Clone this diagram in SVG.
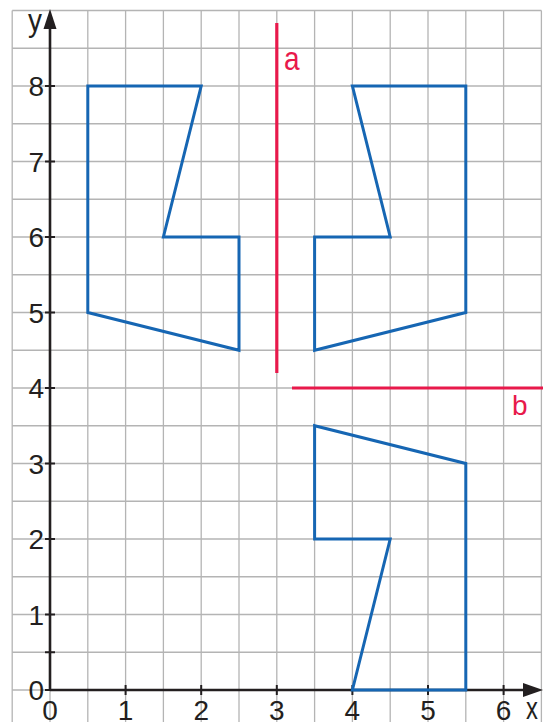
<svg xmlns="http://www.w3.org/2000/svg" width="545" height="722" viewBox="0 0 545 722">
<style>
.grid line{stroke:#b4b4b4;stroke-width:1.3}
.fig{fill:none;stroke:#1666b3;stroke-width:3;stroke-linejoin:miter}
.red{stroke:#e8194b;stroke-width:3.2}
.axis{stroke:#231f20;stroke-width:2.6}
.tick{stroke:#231f20;stroke-width:2}
.lbl{font-family:"Liberation Sans",Arial,sans-serif;font-size:28px;fill:#231f20}
.rl{font-family:"Liberation Sans",Arial,sans-serif;font-size:28px;fill:#e8194b}
</style>
<rect width="545" height="722" fill="#ffffff"/>
<g id="grid" class="grid">
<line x1="12.2" y1="10.5" x2="12.2" y2="722"/>
<line x1="50" y1="10.5" x2="50" y2="722"/>
<line x1="87.8" y1="10.5" x2="87.8" y2="722"/>
<line x1="125.6" y1="10.5" x2="125.6" y2="722"/>
<line x1="163.4" y1="10.5" x2="163.4" y2="722"/>
<line x1="201.2" y1="10.5" x2="201.2" y2="722"/>
<line x1="239" y1="10.5" x2="239" y2="722"/>
<line x1="276.8" y1="10.5" x2="276.8" y2="722"/>
<line x1="314.6" y1="10.5" x2="314.6" y2="722"/>
<line x1="352.4" y1="10.5" x2="352.4" y2="722"/>
<line x1="390.2" y1="10.5" x2="390.2" y2="722"/>
<line x1="428" y1="10.5" x2="428" y2="722"/>
<line x1="465.8" y1="10.5" x2="465.8" y2="722"/>
<line x1="503.6" y1="10.5" x2="503.6" y2="722"/>
<line x1="541.4" y1="10.5" x2="541.4" y2="722"/>
<line x1="12.2" y1="10.5" x2="541.4" y2="10.5"/>
<line x1="12.2" y1="48.25" x2="541.4" y2="48.25"/>
<line x1="12.2" y1="86" x2="541.4" y2="86"/>
<line x1="12.2" y1="123.75" x2="541.4" y2="123.75"/>
<line x1="12.2" y1="161.5" x2="541.4" y2="161.5"/>
<line x1="12.2" y1="199.25" x2="541.4" y2="199.25"/>
<line x1="12.2" y1="237" x2="541.4" y2="237"/>
<line x1="12.2" y1="274.75" x2="541.4" y2="274.75"/>
<line x1="12.2" y1="312.5" x2="541.4" y2="312.5"/>
<line x1="12.2" y1="350.25" x2="541.4" y2="350.25"/>
<line x1="12.2" y1="388" x2="541.4" y2="388"/>
<line x1="12.2" y1="425.75" x2="541.4" y2="425.75"/>
<line x1="12.2" y1="463.5" x2="541.4" y2="463.5"/>
<line x1="12.2" y1="501.25" x2="541.4" y2="501.25"/>
<line x1="12.2" y1="539" x2="541.4" y2="539"/>
<line x1="12.2" y1="576.75" x2="541.4" y2="576.75"/>
<line x1="12.2" y1="614.5" x2="541.4" y2="614.5"/>
<line x1="12.2" y1="652.25" x2="541.4" y2="652.25"/>
<line x1="12.2" y1="690" x2="541.4" y2="690"/>
</g>
<g id="axes">
<line class="axis" x1="50" y1="690" x2="50" y2="26"/>
<polygon points="50,9 43.5,29 56.5,29" fill="#231f20"/>
<line class="axis" x1="50" y1="690" x2="526" y2="690"/>
<polygon points="543,690 523,683 523,697" fill="#231f20"/>
<g class="tick">
<line x1="45" y1="652.25" x2="55" y2="652.25"/>
<line x1="45" y1="614.5" x2="55" y2="614.5"/>
<line x1="45" y1="539" x2="55" y2="539"/>
<line x1="45" y1="463.5" x2="55" y2="463.5"/>
<line x1="45" y1="388" x2="55" y2="388"/>
<line x1="45" y1="312.5" x2="55" y2="312.5"/>
<line x1="45" y1="237" x2="55" y2="237"/>
<line x1="45" y1="161.5" x2="55" y2="161.5"/>
<line x1="45" y1="86" x2="55" y2="86"/>
<line x1="45" y1="690" x2="55" y2="690"/>
<line x1="125.6" y1="685" x2="125.6" y2="695"/>
<line x1="201.2" y1="685" x2="201.2" y2="695"/>
<line x1="276.8" y1="685" x2="276.8" y2="695"/>
<line x1="352.4" y1="685" x2="352.4" y2="695"/>
<line x1="428" y1="685" x2="428" y2="695"/>
<line x1="503.6" y1="685" x2="503.6" y2="695"/>
</g>
<g class="lbl" text-anchor="end">
<text x="44" y="700">0</text>
<text x="44" y="624.5">1</text>
<text x="44" y="549">2</text>
<text x="44" y="473.5">3</text>
<text x="44" y="398">4</text>
<text x="44" y="322.5">5</text>
<text x="44" y="247">6</text>
<text x="44" y="171.5">7</text>
<text x="44" y="96">8</text>
</g>
<g class="lbl" text-anchor="middle">
<text x="50" y="720">0</text>
<text x="125.6" y="720">1</text>
<text x="201.2" y="720">2</text>
<text x="276.8" y="720">3</text>
<text x="352.4" y="720">4</text>
<text x="428" y="720">5</text>
<text x="503.6" y="720">6</text>
</g>
<text class="lbl" transform="translate(28,31) scale(1,1.15)">y</text>
<text class="lbl" transform="translate(526,719) scale(0.85,1.1)">x</text>
</g>
<g id="figure-1">
<polygon class="fig" points="87.8,86 201.2,86 163.4,237 239,237 239,350.25 87.8,312.5"/>
</g>
<g id="figure-2">
<polygon class="fig" points="465.8,86 352.4,86 390.2,237 314.6,237 314.6,350.25 465.8,312.5"/>
</g>
<g id="figure-3">
<polygon class="fig" points="465.8,690 352.4,690 390.2,539 314.6,539 314.6,425.75 465.8,463.5"/>
</g>
<g id="connectors">
<g id="line-a">
<line class="red" x1="276.8" y1="23" x2="276.8" y2="373"/>
<text class="rl" transform="translate(284,70) scale(1,1.2)">a</text>
</g>
<g id="line-b">
<line class="red" x1="292" y1="388" x2="543" y2="388"/>
<text class="rl" x="512" y="415">b</text>
</g>
</g>
</svg>
